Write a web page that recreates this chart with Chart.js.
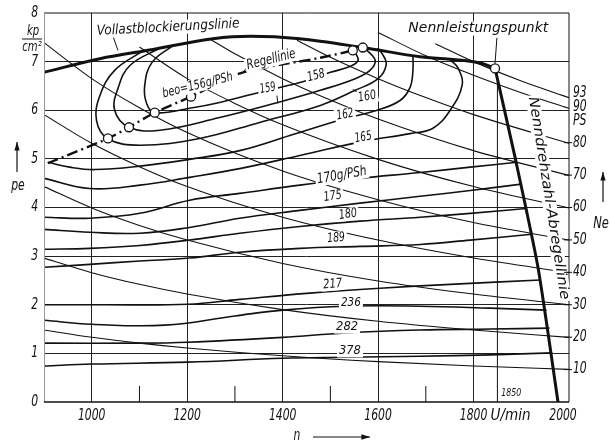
<!DOCTYPE html>
<html>
<head>
<meta charset="utf-8">
<script src="https://cdn.jsdelivr.net/npm/chart.js@4.4.1/dist/chart.umd.min.js"></script>
<style>
  html, body { margin: 0; padding: 0; background: #fff; }
</style>
</head>
<body>
<canvas id="map" width="611" height="443"></canvas>
<script>
// Kennfeld: pe (kp/cm2) over n (U/min), be in g/PSh, Ne in PS

const speedLabels = [1000, 1200, 1400, 1600, 1800, 2000];
const speedGrid = [1000, 1200, 1400, 1600, 1800];
const speedMinor = [1100, 1300, 1500, 1700];
const peTicks = [0, 1, 2, 3, 4, 5, 6, 7, 8];
const psTicks = [10, 20, 30, 40, 50, 60, 70, 80, 90, 93];

// lines of constant power (PS), [n, pe]
const ne10 = [[900,1.48],[1000,1.33],[1100,1.21],[1200,1.11],[1400,0.95],[1600,0.83],[1800,0.74],[2000,0.67]];
const ne20 = [[900,2.96],[1000,2.66],[1100,2.42],[1200,2.22],[1400,1.90],[1600,1.66],[1800,1.48],[2000,1.33]];
const ne30 = [[900,4.43],[1000,3.99],[1100,3.63],[1200,3.33],[1400,2.85],[1600,2.49],[1800,2.22],[2000,2.00]];
const ne40 = [[900,5.91],[1000,5.32],[1100,4.84],[1200,4.43],[1400,3.80],[1600,3.33],[1800,2.96],[2000,2.66]];
const ne50 = [[900,7.39],[1000,6.65],[1100,6.05],[1200,5.54],[1400,4.75],[1600,4.16],[1800,3.69],[2000,3.33]];
const ne60 = [[1100,7.30],[1200,6.65],[1300,6.14],[1400,5.70],[1600,4.99],[1800,4.43],[2000,3.99]];
const ne70 = [[1250,7.45],[1300,7.16],[1400,6.65],[1500,6.21],[1600,5.82],[1800,5.17],[2000,4.66]];
const ne80 = [[1430,7.44],[1500,7.09],[1600,6.65],[1700,6.26],[1800,5.91],[2000,5.32]];
const ne90 = [[1600,7.60],[1700,7.12],[1800,6.72],[1900,6.36],[2000,6.04]];
const ne93 = [[1720,7.37],[1800,7.00],[1900,6.60],[2000,6.26]];

// fuel consumption contours be (g/PSh), [n, pe]
const be158 = [[1170,7.33],[1126,6.98],[1111,6.51],[1115,6.14],[1132,5.95],[1205,6.04],[1268,6.16],[1352,6.37],[1436,6.57],[1500,6.78],[1541,6.90],[1558,7.02],[1553,7.17],[1547,7.23],[1552,7.30]];
const be159 = [[1143,7.28],[1080,6.92],[1055,6.45],[1048,6.00],[1078,5.65],[1143,5.59],[1268,5.85],[1390,6.16],[1479,6.41],[1552,6.65],[1583,6.82],[1594,7.02],[1579,7.21],[1568,7.29]];
const be160 = [[1107,7.22],[1048,6.82],[1017,6.30],[1010,5.79],[1033,5.42],[1101,5.28],[1226,5.42],[1352,5.75],[1479,6.10],[1552,6.41],[1600,6.65],[1617,6.94],[1608,7.17],[1598,7.27]];
const be162 = [[908,4.93],[954,4.83],[1006,4.78],[1101,4.85],[1205,4.99],[1310,5.17],[1415,5.48],[1531,5.83],[1598,6.00],[1646,6.20],[1667,6.47],[1673,6.82],[1673,7.13]];
const be165 = [[900,4.60],[996,4.39],[1101,4.46],[1205,4.62],[1310,4.80],[1436,5.07],[1568,5.36],[1667,5.52],[1715,5.63],[1751,6.00],[1776,6.51],[1768,6.86],[1751,7.04]];
const be170 = [[900,3.80],[996,3.78],[1101,3.88],[1205,4.15],[1310,4.29],[1436,4.46],[1562,4.60],[1688,4.72],[1793,4.83],[1891,4.93]];
const be175 = [[900,3.55],[996,3.49],[1101,3.47],[1205,3.59],[1310,3.78],[1436,3.94],[1562,4.09],[1688,4.23],[1793,4.35],[1900,4.48]];
const be180 = [[900,3.14],[996,3.16],[1101,3.22],[1205,3.33],[1310,3.47],[1436,3.61],[1562,3.72],[1688,3.80],[1793,3.88],[1910,3.98]];
const be189 = [[900,2.77],[996,2.83],[1101,2.90],[1205,2.96],[1310,3.08],[1436,3.16],[1562,3.20],[1688,3.24],[1793,3.33],[1922,3.45]];
const be217 = [[900,2.00],[1017,2.00],[1201,2.01],[1310,2.11],[1457,2.24],[1604,2.34],[1751,2.42],[1940,2.51]];
const be236 = [[900,1.68],[1000,1.60],[1153,1.58],[1300,1.77],[1400,1.89],[1531,1.97],[1688,1.97],[1835,1.93],[1953,1.89]];
const be282 = [[900,1.21],[1101,1.21],[1201,1.23],[1400,1.33],[1531,1.42],[1688,1.48],[1835,1.50],[1959,1.52]];
const be378 = [[900,0.74],[1000,0.78],[1201,0.82],[1400,0.90],[1531,0.92],[1688,0.94],[1835,0.97],[1965,1.01]];

const fullLoad = [[900,6.78],[1017,7.06],[1128,7.25],[1254,7.47],[1332,7.52],[1436,7.47],[1568,7.29],[1688,7.10],[1818,6.96],[1845,6.86]];
const cutOff = [[1845,6.86],[1887,5.03],[1935,2.77],[1977,0]];
const governor = [[908,4.91],[1034,5.42],[1078,5.65],[1132,5.95],[1208,6.28],[1311,6.76],[1479,7.08],[1547,7.23],[1568,7.29]];
const markedPoints = [[1034,5.42],[1078,5.65],[1132,5.95],[1208,6.28],[1547,7.23],[1568,7.29],[1845,6.86]];
const rated1850 = [[1850,0],[1850,6.86]];

// text on the plot: [text, n, pe, angle, width px, font px]
const notes = [
  ['Vollastblockierungslinie', 1160, 7.70, -3, 143, 14],
  ['Nennleistungspunkt', 1810, 7.68, 0, 140, 14],
  ['Regellinie', 1376, 7.04, -14, 50, 14],
  ['beo=156g/PSh', 1222, 6.51, -14, 72, 13],
  ['158', 1470, 6.71, -14, 18, 13],
  ['159', 1369, 6.45, -10, 16, 13],
  ['160', 1577, 6.28, -10, 18, 13],
  ['162', 1531, 5.91, -10, 17, 13],
  ['165', 1569, 5.44, -10, 17, 13],
  ['170g/PSh', 1524, 4.66, -10, 50, 14],
  ['175', 1505, 4.23, -8, 18, 13],
  ['180', 1537, 3.86, -8, 18, 13],
  ['189', 1512, 3.37, -5, 18, 13],
  ['217', 1505, 2.42, -5, 19, 13],
  ['236', 1543, 2.05, 0, 20, 13],
  ['282', 1535, 1.54, 0, 22, 13],
  ['378', 1541, 1.05, 0, 22, 13],
  ['1850', 1879, 0.18, 0, 20, 11],
  ['Nenndrehzahl-Abregellinie', 1957, 4.19, 81, 205, 14]
];
const leaders = [
  [[1044,7.54],[1055,7.23]],
  [[1327,6.90],[1315,6.76]],
  [[1849,7.49],[1845,6.96]],
  [[1388,6.30],[1390,6.14]],
  [[1556,6.37],[1547,6.43]]
];

const xy = pts => pts.map(([x, y]) => ({ x, y }));

function line(pts, width, extra) {
  return Object.assign({
    data: xy(pts),
    showLine: true,
    borderColor: '#111',
    borderWidth: width,
    pointRadius: 0,
    fill: false,
    tension: 0.4
  }, extra || {});
}

const datasets = [];
[ne10, ne20, ne30, ne40, ne50, ne60, ne70, ne80, ne90, ne93].forEach(p =>
  datasets.push(line(p, 1.1, { cubicInterpolationMode: 'monotone' })));
[be158, be159, be160, be162, be165, be170, be175, be180, be189, be217, be236, be282, be378].forEach(p =>
  datasets.push(line(p, 1.6)));
datasets.push(line(rated1850, 1, { tension: 0 }));
datasets.push(line(fullLoad, 3, { cubicInterpolationMode: 'monotone' }));
datasets.push(line(cutOff, 3, { tension: 0.2 }));
datasets.push(line(governor, 2.4, { borderDash: [11, 4, 2, 4], tension: 0.3 }));
datasets.push({
  data: xy(markedPoints),
  pointRadius: 4.5,
  pointBackgroundColor: '#fff',
  pointBorderColor: '#111',
  pointBorderWidth: 1.3,
  showLine: false,
  order: -1
});

const FONT = '"DejaVu Sans", sans-serif';

function drawText(ctx, txt, x, y, o) {
  const size = o.size || 15;
  ctx.save();
  ctx.translate(x, y);
  if (o.angle) ctx.rotate(o.angle * Math.PI / 180);
  ctx.font = 'italic ' + size + 'px ' + FONT;
  const w = ctx.measureText(txt).width;
  const sx = o.width ? o.width / w : 0.72;
  if (o.bg) {
    ctx.fillStyle = '#fff';
    ctx.fillRect(-w * sx / 2 - 2, -size * 0.5, w * sx + 4, size);
  }
  ctx.scale(sx, 1);
  ctx.fillStyle = '#111';
  ctx.textAlign = o.align || 'center';
  ctx.textBaseline = 'middle';
  ctx.fillText(txt, 0, 0);
  ctx.restore();
}

function arrow(ctx, x1, y1, x2, y2) {
  const a = Math.atan2(y2 - y1, x2 - x1);
  ctx.beginPath();
  ctx.moveTo(x1, y1);
  ctx.lineTo(x2, y2);
  ctx.stroke();
  ctx.beginPath();
  ctx.moveTo(x2, y2);
  ctx.lineTo(x2 - 9 * Math.cos(a - 0.3), y2 - 9 * Math.sin(a - 0.3));
  ctx.lineTo(x2 - 9 * Math.cos(a + 0.3), y2 - 9 * Math.sin(a + 0.3));
  ctx.closePath();
  ctx.fill();
}

const decor = {
  id: 'decor',
  afterDatasetsDraw(chart) {
    const { ctx, chartArea: ca, scales } = chart;
    const xs = scales.x, ys = scales.y, ps = scales.ps;
    ctx.save();
    ctx.strokeStyle = '#111';
    ctx.fillStyle = '#111';

    // frame
    ctx.lineWidth = 1;
    ctx.beginPath();
    ctx.moveTo(ca.left, ca.top); ctx.lineTo(ca.right, ca.top); ctx.lineTo(ca.right, ca.bottom);
    ctx.stroke();
    ctx.strokeStyle = '#999';
    ctx.beginPath();
    ctx.moveTo(ca.left + 0.5, ca.top); ctx.lineTo(ca.left + 0.5, ca.bottom);
    ctx.stroke();
    ctx.strokeStyle = '#111';
    ctx.lineWidth = 1.6;
    ctx.beginPath();
    ctx.moveTo(ca.left, ca.bottom); ctx.lineTo(ca.right, ca.bottom);
    ctx.stroke();

    // short ticks at the odd hundreds
    ctx.lineWidth = 1;
    speedMinor.forEach(v => {
      const x = xs.getPixelForValue(v);
      ctx.beginPath(); ctx.moveTo(x, ca.bottom); ctx.lineTo(x, ca.bottom - 16); ctx.stroke();
    });

    // leader lines
    leaders.forEach(([a, b]) => {
      ctx.beginPath();
      ctx.moveTo(xs.getPixelForValue(a[0]), ys.getPixelForValue(a[1]));
      ctx.lineTo(xs.getPixelForValue(b[0]), ys.getPixelForValue(b[1]));
      ctx.stroke();
    });

    // labels on the plot
    notes.forEach(([t, n, pe, ang, w, s]) =>
      drawText(ctx, t, xs.getPixelForValue(n), ys.getPixelForValue(pe), { angle: ang, width: w, size: s, bg: true }));

    // left axis
    peTicks.forEach(v => drawText(ctx, String(v), ca.left - 6, ys.getPixelForValue(v), { align: 'right' }));
    drawText(ctx, 'kp', 33, 31, { size: 14 });
    ctx.lineWidth = 1;
    ctx.beginPath(); ctx.moveTo(22, 39); ctx.lineTo(42, 39); ctx.stroke();
    drawText(ctx, 'cm\u00b2', 32, 47, { size: 14 });
    drawText(ctx, 'pe', 18, 186, { size: 15 });
    ctx.lineWidth = 1.2;
    arrow(ctx, 17, 172, 17, 142);

    // bottom axis
    speedLabels.forEach(v => {
      const x = xs.getPixelForValue(v) - (v === xs.max ? 6 : 0);
      drawText(ctx, String(v), x, ca.bottom + 14, {});
    });
    drawText(ctx, 'U/min', xs.getPixelForValue(1800) + 17, ca.bottom + 14, { align: 'left', size: 15, width: 40 });
    drawText(ctx, 'n', 297, 436, {});
    arrow(ctx, 313, 437, 370, 437);

    // right axis: power at rated speed
    ctx.lineWidth = 1;
    psTicks.forEach(v => {
      let y = ps.getPixelForValue(v);
      if (v < 90) { ctx.beginPath(); ctx.moveTo(ca.right - 5, y); ctx.lineTo(ca.right + 3, y); ctx.stroke(); }
      if (v === 93) y -= 7;
      if (v === 90) y -= 3;
      drawText(ctx, String(v), ca.right + 4, y, { align: 'left' });
    });
    drawText(ctx, 'PS', ca.right + 4, 121, { align: 'left' });
    drawText(ctx, 'Ne', 601, 224, { size: 16 });
    ctx.lineWidth = 1.2;
    arrow(ctx, 603, 202, 603, 172);

    ctx.restore();
  }
};

new Chart(document.getElementById('map'), {
  type: 'scatter',
  data: { datasets },
  options: {
    responsive: false,
    animation: false,
    layout: { padding: { left: 44, right: 42, top: 13, bottom: 41 } },
    plugins: { legend: { display: false }, tooltip: { enabled: false } },
    scales: {
      x: {
        type: 'linear', min: 900, max: 2000,
        afterBuildTicks: s => { s.ticks = speedGrid.map(v => ({ value: v })); },
        ticks: { display: false },
        grid: { color: '#222', lineWidth: 1, drawTicks: false },
        border: { display: false }
      },
      y: {
        type: 'linear', min: 0, max: 8,
        afterBuildTicks: s => { s.ticks = peTicks.slice(1, -1).map(v => ({ value: v })); },
        ticks: { display: false },
        grid: { color: '#222', lineWidth: 1, drawTicks: false },
        border: { display: false }
      },
      ps: { type: 'linear', min: 0, max: 120, display: false, position: 'right' }
    }
  },
  plugins: [decor]
});
</script>
</body>
</html>
